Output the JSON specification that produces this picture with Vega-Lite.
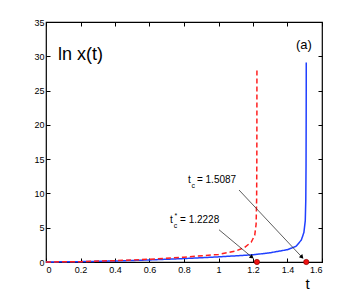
{
  "$schema": "https://vega.github.io/schema/vega-lite/v6.json",
  "autosize": "none",
  "width": 276,
  "height": 240,
  "padding": {"left": 46, "top": 22, "right": 32, "bottom": 33},
  "config": {
    "font": "Liberation Sans",
    "view": {"stroke": "black", "strokeWidth": 1.2},
    "axis": {"grid": false, "domain": false, "tickColor": "black", "tickSize": -4, "tickWidth": 1, "labelColor": "black", "labelFontSize": 9, "labelFont": "Liberation Sans"}
  },
  "datasets": {
    "curves": [
      {"t": 0, "y": 0, "s": "b"}, {"t": 0.2, "y": 0.05, "s": "b"}, {"t": 0.4, "y": 0.15, "s": "b"}, {"t": 0.6, "y": 0.3, "s": "b"}, {"t": 0.8, "y": 0.5, "s": "b"}, {"t": 1.0, "y": 0.75, "s": "b"}, {"t": 1.2, "y": 1.05, "s": "b"}, {"t": 1.3, "y": 1.35, "s": "b"}, {"t": 1.4, "y": 1.8, "s": "b"}, {"t": 1.45, "y": 2.3, "s": "b"}, {"t": 1.48, "y": 3.2, "s": "b"}, {"t": 1.495, "y": 4.3, "s": "b"}, {"t": 1.503, "y": 6.0, "s": "b"}, {"t": 1.506, "y": 9, "s": "b"}, {"t": 1.5075, "y": 14, "s": "b"}, {"t": 1.5082, "y": 20, "s": "b"}, {"t": 1.5086, "y": 25, "s": "b"}, {"t": 1.5087, "y": 29.1, "s": "b"},
      {"t": 0, "y": 0, "s": "r"}, {"t": 0.2, "y": 0.05, "s": "r"}, {"t": 0.4, "y": 0.2, "s": "r"}, {"t": 0.6, "y": 0.4, "s": "r"}, {"t": 0.8, "y": 0.7, "s": "r"}, {"t": 1.0, "y": 1.1, "s": "r"}, {"t": 1.1, "y": 1.6, "s": "r"}, {"t": 1.15, "y": 2.1, "s": "r"}, {"t": 1.19, "y": 2.9, "s": "r"}, {"t": 1.21, "y": 3.9, "s": "r"}, {"t": 1.218, "y": 5.5, "s": "r"}, {"t": 1.221, "y": 9, "s": "r"}, {"t": 1.2222, "y": 15, "s": "r"}, {"t": 1.2226, "y": 21, "s": "r"}, {"t": 1.2228, "y": 28.1, "s": "r"}
    ],
    "dots": [{"t": 1.2228, "y": 0}, {"t": 1.5087, "y": 0}],
    "arrows": [
      {"t": 1.119, "y": 10.5, "t2": 1.484, "y2": 0.7, "a": "b"},
      {"t": 1.003, "y": 4.7, "t2": 1.194, "y2": 0.7, "a": "r"}
    ],
    "bigtext": [
      {"t": 0.07, "y": 29.5, "label": "ln x(t)"}
    ],
    "mediumtext": [
      {"t": 1.449, "y": 31.0, "label": "(a)"}
    ],
    "text10": [
      {"t": 0.823, "y": 11.57, "label": "t"},
      {"t": 0.875, "y": 11.5, "label": "= 1.5087"},
      {"t": 0.719, "y": 5.71, "label": "t"},
      {"t": 0.777, "y": 5.71, "label": "= 1.2228"}
    ],
    "text7": [
      {"t": 0.843, "y": 10.83, "label": "c"},
      {"t": 0.74, "y": 4.9, "label": "c"},
      {"t": 0.745, "y": 6.4, "label": "*"}
    ]
  },
  "resolve": {"axis": {"x": "independent", "y": "independent"}},
  "layer": [
    {
      "data": {"name": "curves"},
      "mark": {"type": "line", "strokeWidth": 1.5},
      "encoding": {
        "x": {"field": "t", "type": "quantitative", "scale": {"domain": [0, 1.6], "nice": false},
              "axis": {"values": [0, 0.2, 0.4, 0.6, 0.8, 1, 1.2, 1.4, 1.6], "format": "~g", "labelPadding": 7, "title": "t", "titleFontSize": 15, "titleFontWeight": "normal", "titleX": 261, "titleY": 26, "titleBaseline": "alphabetic", "titleAlign": "center"}},
        "y": {"field": "y", "type": "quantitative", "scale": {"domain": [0, 35], "nice": false},
              "axis": {"values": [0, 5, 10, 15, 20, 25, 30, 35], "labelPadding": 6, "title": null}},
        "color": {"field": "s", "type": "nominal", "scale": {"domain": ["b", "r"], "range": ["#2040ff", "#ff2020"]}, "legend": null},
        "strokeDash": {"field": "s", "type": "nominal", "scale": {"domain": ["b", "r"], "range": [[1, 0], [5, 3]]}, "legend": null}
      }
    },
    {
      "data": {"name": "dots"},
      "mark": {"type": "point", "filled": true, "color": "#ee1111", "size": 28, "stroke": "#800000", "strokeWidth": 0.6, "opacity": 1},
      "encoding": {
        "x": {"field": "t", "type": "quantitative", "axis": {"orient": "top", "values": [0, 0.2, 0.4, 0.6, 0.8, 1, 1.2, 1.4, 1.6], "labels": false, "title": null}},
        "y": {"field": "y", "type": "quantitative", "axis": {"orient": "right", "values": [0, 5, 10, 15, 20, 25, 30, 35], "labels": false, "title": null}}
      }
    },
    {
      "data": {"name": "arrows"},
      "mark": {"type": "rule", "color": "#333333", "strokeWidth": 0.8},
      "encoding": {
        "x": {"field": "t", "type": "quantitative", "axis": null},
        "y": {"field": "y", "type": "quantitative", "axis": null},
        "x2": {"field": "t2"},
        "y2": {"field": "y2"}
      }
    },
    {
      "data": {"name": "arrows"},
      "transform": [{"filter": "datum.a == 'b'"}],
      "mark": {"type": "point", "shape": "triangle-up", "filled": true, "color": "black", "size": 22, "angle": 137, "opacity": 1},
      "encoding": {
        "x": {"field": "t2", "type": "quantitative", "axis": null},
        "y": {"field": "y2", "type": "quantitative", "axis": null}
      }
    },
    {
      "data": {"name": "arrows"},
      "transform": [{"filter": "datum.a == 'r'"}],
      "mark": {"type": "point", "shape": "triangle-up", "filled": true, "color": "black", "size": 22, "angle": 129, "opacity": 1},
      "encoding": {
        "x": {"field": "t2", "type": "quantitative", "axis": null},
        "y": {"field": "y2", "type": "quantitative", "axis": null}
      }
    },
    {
      "data": {"name": "bigtext"},
      "mark": {"type": "text", "fontSize": 18, "align": "left", "baseline": "alphabetic", "color": "black"},
      "encoding": {
        "x": {"field": "t", "type": "quantitative", "axis": null},
        "y": {"field": "y", "type": "quantitative", "axis": null},
        "text": {"field": "label"}
      }
    },
    {
      "data": {"name": "mediumtext"},
      "mark": {"type": "text", "fontSize": 13, "align": "left", "baseline": "alphabetic", "color": "black"},
      "encoding": {
        "x": {"field": "t", "type": "quantitative", "axis": null},
        "y": {"field": "y", "type": "quantitative", "axis": null},
        "text": {"field": "label"}
      }
    },
    {
      "data": {"name": "text10"},
      "mark": {"type": "text", "fontSize": 10, "align": "left", "baseline": "alphabetic", "color": "black"},
      "encoding": {
        "x": {"field": "t", "type": "quantitative", "axis": null},
        "y": {"field": "y", "type": "quantitative", "axis": null},
        "text": {"field": "label"}
      }
    },
    {
      "data": {"name": "text7"},
      "mark": {"type": "text", "fontSize": 7, "align": "left", "baseline": "alphabetic", "color": "black"},
      "encoding": {
        "x": {"field": "t", "type": "quantitative", "axis": null},
        "y": {"field": "y", "type": "quantitative", "axis": null},
        "text": {"field": "label"}
      }
    }
  ]
}
